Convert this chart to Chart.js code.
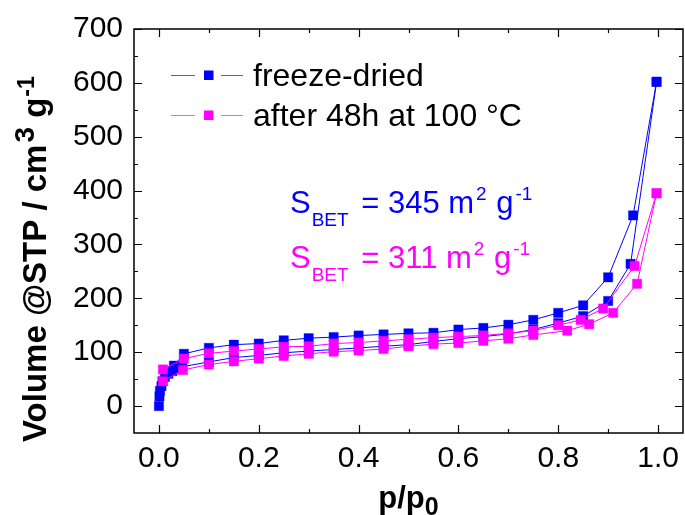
<!DOCTYPE html>
<html><head><meta charset="utf-8">
<script src="https://cdn.jsdelivr.net/npm/chart.js@4/dist/chart.umd.min.js"></script>
<style>html,body{margin:0;padding:0;background:#fff}canvas{display:block}</style>
</head><body>
<canvas id="c" width="685" height="515"></canvas>
<script>
// ---- tick labels ----
const xTicks = [0.0, 0.2, 0.4, 0.6, 0.8, 1.0];
const xMinorTicks = [0.1, 0.3, 0.5, 0.7, 0.9];
const yTicks = [0, 100, 200, 300, 400, 500, 600, 700];
const yMinorTicks = [50, 150, 250, 350, 450, 550, 650];

// ---- series names ----
const seriesNames = ['freeze-dried', 'after 48h at 100 °C'];

// ---- freeze-dried (blue): adsorption branch ----
const fdAdsP = [0.000, 0.001, 0.002, 0.005, 0.007, 0.012, 0.019, 0.027, 0.037, 0.047, 0.10, 0.15, 0.20, 0.25, 0.30, 0.35, 0.40, 0.45, 0.50, 0.55, 0.60, 0.65, 0.70, 0.75, 0.80, 0.85, 0.90, 0.945, 0.997];
const fdAdsV = [0, 18, 28, 37, 46, 54, 60, 65, 70, 73, 82, 90, 94, 99, 102, 105, 108, 111, 114, 120, 125, 129, 134, 142, 154, 167, 195, 264, 602];
// ---- freeze-dried (blue): desorption branch ----
const fdDesP = [0.997, 0.95, 0.90, 0.85, 0.80, 0.75, 0.70, 0.65, 0.60, 0.55, 0.50, 0.45, 0.40, 0.35, 0.30, 0.25, 0.20, 0.15, 0.10, 0.05, 0.03];
const fdDesV = [602, 354, 239, 187, 173, 160, 151, 145, 142, 136, 135, 133, 131, 128, 126, 122, 116, 114, 108, 97, 75];

// ---- after 48h at 100 °C (magenta): adsorption branch ----
const htAdsP = [0.008, 0.048, 0.10, 0.15, 0.20, 0.25, 0.30, 0.35, 0.40, 0.45, 0.50, 0.55, 0.60, 0.65, 0.70, 0.75, 0.818, 0.862, 0.91, 0.958, 0.997];
const htAdsV = [46, 67, 77, 83, 88, 93, 97, 101, 103, 106, 111, 115, 117, 121, 125, 132, 140, 152, 173, 227, 395];
// ---- after 48h at 100 °C (magenta): desorption branch ----
const htDesP = [0.997, 0.953, 0.89, 0.845, 0.80, 0.75, 0.70, 0.65, 0.60, 0.55, 0.50, 0.45, 0.40, 0.35, 0.30, 0.25, 0.20, 0.15, 0.10, 0.05, 0.008];
const htDesV = [395, 260, 181, 160, 150, 140, 135, 131, 129, 127, 124, 121, 118, 116, 111, 110, 106, 102, 98, 88, 68];

const BLUE = '#0000ff', MAG = '#ff00ff';

function pts(p1, v1, p2, v2) {
  const a = p1.map((p, i) => ({x: p, y: v1[i]}));
  const b = p2.map((p, i) => ({x: p, y: v2[i]}));
  return a.concat(b);
}

const FONT = "'Liberation Sans', Arial, sans-serif";

const decor = {
  id: 'decor',
  afterDraw(chart) {
    const ctx = chart.ctx, a = chart.chartArea;
    const xs = chart.scales.x, ys = chart.scales.y;
    ctx.save();
    ctx.strokeStyle = '#000';
    ctx.lineWidth = 1.5;
    ctx.strokeRect(a.left, a.top, a.right - a.left, a.bottom - a.top);
    ctx.lineWidth = 1.2;
    const MAJ = 8, MIN = 4;
    ctx.beginPath();
    xTicks.forEach(v => { const px = Math.round(xs.getPixelForValue(v)) + 0.5;
      ctx.moveTo(px, a.bottom); ctx.lineTo(px, a.bottom - MAJ);
      ctx.moveTo(px, a.top); ctx.lineTo(px, a.top + MAJ); });
    xMinorTicks.forEach(v => { const px = Math.round(xs.getPixelForValue(v)) + 0.5;
      ctx.moveTo(px, a.bottom); ctx.lineTo(px, a.bottom - MIN);
      ctx.moveTo(px, a.top); ctx.lineTo(px, a.top + MIN); });
    yTicks.forEach(v => { const py = Math.round(ys.getPixelForValue(v)) + 0.5;
      ctx.moveTo(a.left, py); ctx.lineTo(a.left + MAJ, py);
      ctx.moveTo(a.right, py); ctx.lineTo(a.right - MAJ, py); });
    yMinorTicks.forEach(v => { const py = Math.round(ys.getPixelForValue(v)) + 0.5;
      ctx.moveTo(a.left, py); ctx.lineTo(a.left + MIN, py);
      ctx.moveTo(a.right, py); ctx.lineTo(a.right - MIN, py); });
    ctx.stroke();

    // ---- y title ----
    ctx.fillStyle = '#000';
    ctx.save();
    ctx.translate(46, 442);
    ctx.rotate(-Math.PI / 2);
    ctx.textBaseline = 'alphabetic';
    ctx.textAlign = 'left';
    let x = 0;
    ctx.font = 'bold 33px ' + FONT;
    let t = 'Volume @STP / cm'; ctx.fillText(t, x, 0); x += ctx.measureText(t).width + 2;
    ctx.font = 'bold 28px ' + FONT;
    t = '3'; ctx.fillText(t, x, -12); x += ctx.measureText(t).width;
    ctx.font = 'bold 33px ' + FONT;
    t = ' g'; ctx.fillText(t, x, 0); x += ctx.measureText(t).width + 1;
    ctx.font = 'bold 23px ' + FONT;
    t = '-1'; ctx.fillText(t, x, -12);
    ctx.restore();

    // ---- x title ----
    ctx.save();
    ctx.font = 'bold 31px ' + FONT;
    const w1 = ctx.measureText('p/p').width;
    ctx.font = 'bold 25px ' + FONT;
    const w2 = ctx.measureText('0').width;
    const cx = (a.left + a.right) / 2;
    let sx = cx - (w1 + w2) / 2;
    ctx.font = 'bold 31px ' + FONT;
    ctx.fillText('p/p', sx, 508);
    ctx.font = 'bold 25px ' + FONT;
    ctx.fillText('0', sx + w1, 515);
    ctx.restore();

    // ---- legend ----
    const legendRows = [[BLUE, 'rgba(40,40,255,0.8)', 75, 86], [MAG, 'rgba(255,40,255,0.8)', 115, 126]];
    legendRows.forEach((r, i) => {
      ctx.strokeStyle = r[1];
      ctx.lineWidth = 1;
      ctx.beginPath();
      ctx.moveTo(171, r[2] + 0.5); ctx.lineTo(195, r[2] + 0.5);
      ctx.moveTo(221, r[2] + 0.5); ctx.lineTo(243, r[2] + 0.5);
      ctx.stroke();
      ctx.fillStyle = r[0];
      ctx.fillRect(204, r[2] - 4.5, 9.5, 9.5);
      ctx.fillStyle = '#000';
      ctx.font = '32px ' + FONT;
      ctx.fillText(seriesNames[i], 253, r[3]);
    });

    // ---- BET annotations ----
    const ann = [[BLUE, '345', 213], [MAG, '311', 268]];
    ann.forEach(r => {
      ctx.fillStyle = r[0];
      let x = 290, b = r[2];
      ctx.font = '31px ' + FONT; ctx.fillText('S', x, b); x += ctx.measureText('S').width;
      ctx.font = '19px ' + FONT; ctx.fillText('BET', x + 1, b + 13); x += ctx.measureText('BET').width + 1;
      ctx.font = '31px ' + FONT;
      let s = ' = ' + r[1] + ' m'; ctx.fillText(s, x + 4, b); x += ctx.measureText(s).width + 4;
      ctx.font = '19px ' + FONT; ctx.fillText('2', x + 2, b - 13); x += ctx.measureText('2').width + 3;
      ctx.font = '31px ' + FONT; ctx.fillText(' g', x, b); x += ctx.measureText(' g').width + 2;
      ctx.font = '19px ' + FONT; ctx.fillText('-1', x, b - 13);
    });
    ctx.restore();
  }
};

new Chart(document.getElementById('c'), {
  type: 'scatter',
  data: {
    datasets: [
      {
        label: seriesNames[1], order: 0,
        data: pts(htAdsP, htAdsV, htDesP, htDesV),
        showLine: true, borderColor: MAG, borderWidth: 1,
        pointStyle: 'rect', pointRadius: 6.6, pointBackgroundColor: MAG,
        pointBorderColor: 'rgba(255,0,255,0.35)', pointBorderWidth: 1
      },
      {
        label: seriesNames[0], order: 1,
        data: pts(fdAdsP, fdAdsV, fdDesP, fdDesV),
        showLine: true, borderColor: BLUE, borderWidth: 1,
        pointStyle: 'rect', pointRadius: 6.6, pointBackgroundColor: BLUE,
        pointBorderColor: 'rgba(0,0,255,0.35)', pointBorderWidth: 1
      }
    ]
  },
  options: {
    responsive: false, animation: false, devicePixelRatio: 1,
    layout: { autoPadding: false, padding: { top: 29, right: 2, left: 0, bottom: 0 } },
    plugins: { legend: { display: false }, tooltip: { enabled: false } },
    scales: {
      x: {
        type: 'linear', min: -0.05, max: 1.05,
        afterBuildTicks: s => { s.ticks = xTicks.map(v => ({value: v})); },
        afterFit: s => { s.height = 82; s.paddingLeft = 0; s.paddingRight = 0; },
        grid: { display: false, drawTicks: false }, border: { display: false },
        ticks: { color: '#000', font: { family: FONT, size: 30 }, padding: 8,
          maxRotation: 0, autoSkip: false, callback: v => Number(v).toFixed(1) }
      },
      y: {
        type: 'linear', min: -50, max: 700,
        afterBuildTicks: s => { s.ticks = yTicks.map(v => ({value: v})); },
        afterFit: s => { s.width = 134; s.paddingTop = 0; s.paddingBottom = 0; },
        grid: { display: false, drawTicks: false }, border: { display: false },
        ticks: { color: '#000', font: { family: FONT, size: 30 }, padding: 11,
          autoSkip: false, callback: v => String(v) }
      }
    }
  },
  plugins: [decor]
});
</script>
</body></html>
